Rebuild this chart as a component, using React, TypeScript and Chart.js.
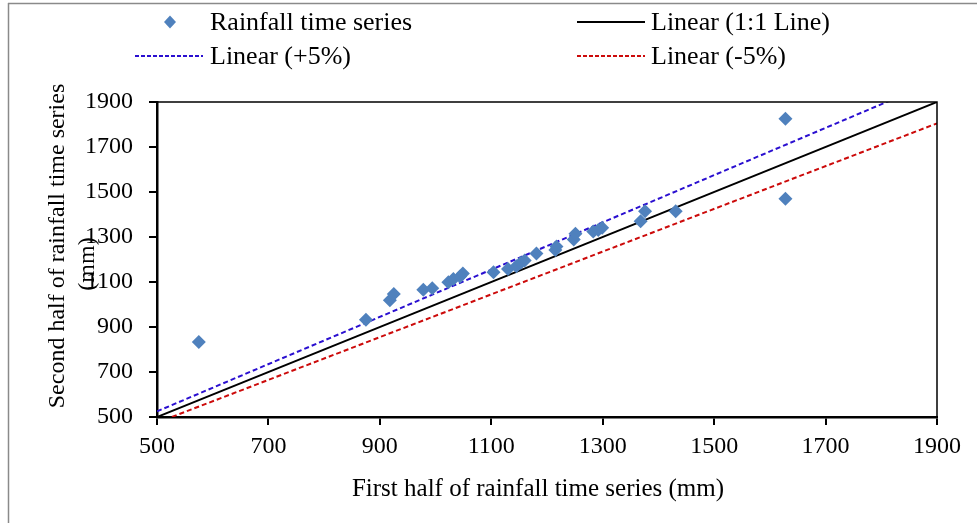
import React, { useEffect, useRef } from "react";
import { Chart, registerables } from "chart.js";
Chart.register(...registerables);

// Observed rainfall (mm): first half vs second half of the time series
const firstHalf = [575, 875, 918, 925, 978, 994, 1023, 1032, 1044, 1049, 1104, 1130, 1145, 1153, 1160, 1181, 1215, 1217, 1248, 1251, 1283, 1292, 1299, 1368, 1376, 1431, 1628, 1628];
const secondHalf = [833, 932, 1019, 1047, 1066, 1072, 1099, 1113, 1125, 1138, 1143, 1158, 1170, 1186, 1196, 1227, 1242, 1258, 1289, 1315, 1325, 1331, 1341, 1370, 1415, 1415, 1826, 1470];

// Reference lines (end points)
const lineX = [500, 1900];
const oneToOneY = [500, 1900];
const plus5Y = [525, 1995];
const minus5Y = [475, 1805];

const axisMin = 500;
const axisMax = 1900;
const axisStep = 200;

const seriesNames = ["Rainfall time series", "Linear (1:1 Line)", "Linear (+5%)", "Linear (-5%)"];
const xTitle = "First half of rainfall time series (mm)";
const yTitleLines = ["Second half of rainfall time series", "(mm)"];

const FONT = '"Liberation Serif", "Times New Roman", serif';
const POINT_COLOR = "#4F81BD";
const BLUE = "#2A0FD0";
const RED = "#CC0A0A";

const decorPlugin = {
  id: "decor",
  beforeDraw(chart: any) {
    const ctx = chart.ctx;
    ctx.save();
    ctx.fillStyle = "#fff";
    ctx.fillRect(0, 0, chart.width, chart.height);
    ctx.strokeStyle = "#8a8a8a";
    ctx.lineWidth = 1.5;
    ctx.beginPath();
    ctx.moveTo(8, 3.5);
    ctx.lineTo(chart.width, 3.5);
    ctx.moveTo(8.5, 3);
    ctx.lineTo(8.5, chart.height);
    ctx.stroke();
    ctx.restore();
  },
  afterDraw(chart: any) {
    const ctx = chart.ctx;
    const a = chart.chartArea;
    ctx.save();
    // plot frame top/right
    ctx.strokeStyle = "#000";
    ctx.lineWidth = 1.5;
    ctx.beginPath();
    ctx.moveTo(a.left, a.top);
    ctx.lineTo(a.right, a.top);
    ctx.lineTo(a.right, a.bottom);
    ctx.stroke();

    // axis titles
    ctx.fillStyle = "#000";
    ctx.textAlign = "center";
    ctx.textBaseline = "middle";
    ctx.font = `25px ${FONT}`;
    ctx.fillText(xTitle, 538, 489);

    ctx.font = `24px ${FONT}`;
    ctx.save();
    ctx.translate(58, 246);
    ctx.rotate(-Math.PI / 2);
    ctx.fillText(yTitleLines[0], 0, 0);
    ctx.restore();
    ctx.save();
    ctx.translate(88, 264);
    ctx.rotate(-Math.PI / 2);
    ctx.fillText(yTitleLines[1], 0, 0);
    ctx.restore();

    // legend
    ctx.textAlign = "left";
    ctx.font = `26px ${FONT}`;
    const r1 = 22;
    const r2 = 56;
    // diamond
    ctx.fillStyle = POINT_COLOR;
    ctx.beginPath();
    ctx.moveTo(170, r1 - 6.5);
    ctx.lineTo(176, r1);
    ctx.lineTo(170, r1 + 6.5);
    ctx.lineTo(164, r1);
    ctx.closePath();
    ctx.fill();
    ctx.fillStyle = "#000";
    ctx.fillText(seriesNames[0], 210, r1 + 1);
    // black line
    ctx.strokeStyle = "#000";
    ctx.lineWidth = 2;
    ctx.setLineDash([]);
    ctx.beginPath();
    ctx.moveTo(577, r1);
    ctx.lineTo(645, r1);
    ctx.stroke();
    ctx.fillText(seriesNames[1], 651, r1 + 1);
    // blue dashed
    ctx.strokeStyle = BLUE;
    ctx.lineWidth = 2;
    ctx.setLineDash([4, 2]);
    ctx.beginPath();
    ctx.moveTo(135, r2);
    ctx.lineTo(203, r2);
    ctx.stroke();
    ctx.fillText(seriesNames[2], 210, r2 + 1);
    // red dashed
    ctx.strokeStyle = RED;
    ctx.beginPath();
    ctx.moveTo(577, r2);
    ctx.lineTo(645, r2);
    ctx.stroke();
    ctx.setLineDash([]);
    ctx.fillText(seriesNames[3], 651, r2 + 1);
    ctx.restore();
  },
};

export default function App() {
  const ref = useRef<HTMLCanvasElement>(null);
  useEffect(() => {
    if (!ref.current) return;
    const pts = firstHalf.map((x, i) => ({ x, y: secondHalf[i] }));
    const mk = (ys: number[]) => lineX.map((x, i) => ({ x, y: ys[i] }));
    const tickFont = { family: FONT, size: 24 };
    const plain = (v: any) => String(v);
    const chart = new Chart(ref.current, {
      type: "scatter",
      data: {
        datasets: [
          {
            label: seriesNames[0],
            data: pts,
            pointStyle: "rectRot",
            pointRadius: 7,
            pointBackgroundColor: POINT_COLOR,
            pointBorderWidth: 0,
            showLine: false,
          } as any,
          {
            label: seriesNames[1],
            data: mk(oneToOneY),
            showLine: true,
            borderColor: "#000",
            borderWidth: 2,
            pointRadius: 0,
          },
          {
            label: seriesNames[2],
            data: mk(plus5Y),
            showLine: true,
            borderColor: BLUE,
            borderWidth: 2,
            borderDash: [5, 3],
            pointRadius: 0,
          },
          {
            label: seriesNames[3],
            data: mk(minus5Y),
            showLine: true,
            borderColor: RED,
            borderWidth: 2,
            borderDash: [5, 3],
            pointRadius: 0,
          },
        ],
      },
      options: {
        responsive: false,
        animation: false,
        devicePixelRatio: 1,
        layout: { padding: { left: 0, top: 102, right: 40, bottom: 0 } },
        plugins: { legend: { display: false }, tooltip: { enabled: false } },
        scales: {
          x: {
            type: "linear",
            min: axisMin,
            max: axisMax,
            afterFit: (s: any) => { s.height = 106; },
            ticks: { stepSize: axisStep, color: "#000", font: tickFont, padding: 7, maxRotation: 0, callback: plain },
            grid: { display: true, drawOnChartArea: false, drawTicks: true, tickLength: 8, color: "#000", lineWidth: 2 },
            border: { display: true, color: "#000", width: 2.5 },
          },
          y: {
            type: "linear",
            min: axisMin,
            max: axisMax,
            afterFit: (s: any) => { s.width = 157; },
            ticks: { stepSize: axisStep, color: "#000", font: tickFont, padding: 16, callback: plain },
            grid: { display: true, drawOnChartArea: false, drawTicks: true, tickLength: 8, color: "#000", lineWidth: 2 },
            border: { display: true, color: "#000", width: 2.5 },
          },
        },
      },
      plugins: [decorPlugin],
    } as any);
    return () => chart.destroy();
  }, []);
  return (
    <div style={{ position: "fixed", left: 0, top: 0, width: 977, height: 523, background: "#fff" }}>
      <canvas ref={ref} width={977} height={523} style={{ width: 977, height: 523, display: "block" }} />
    </div>
  );
}
